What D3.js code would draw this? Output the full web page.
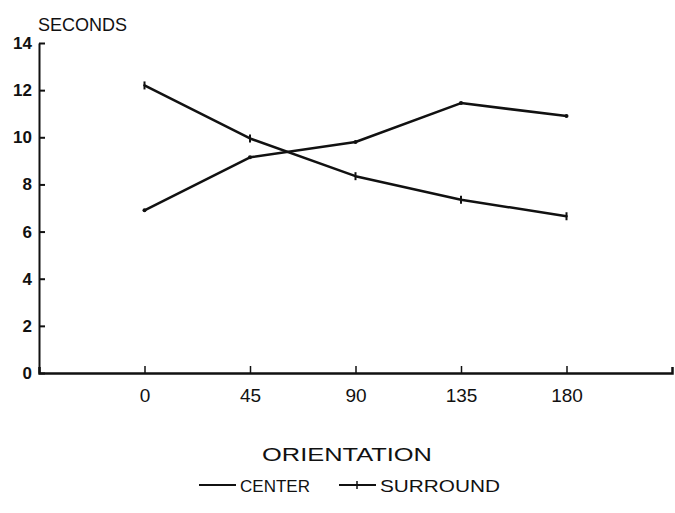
<!DOCTYPE html>
<html>
<head>
<meta charset="utf-8">
<script src="https://cdn.jsdelivr.net/npm/d3@7"></script>
<style>
  html, body { margin: 0; padding: 0; background: #fff; }
  svg { display: block; }
</style>
</head>
<body>
<svg id="chart"></svg>
<script>
// Viewing time by target orientation
const orientations = [0, 45, 90, 135, 180];
const centerSeconds = [6.9, 9.15, 9.8, 11.45, 10.9];
const surroundSeconds = [12.2, 9.95, 8.35, 7.35, 6.65];
const yTicks = [0, 2, 4, 6, 8, 10, 12, 14];

const width = 675, height = 513;
const ink = '#111';
const font = '"Liberation Sans", Arial, sans-serif';

const svg = d3.select('#chart')
    .attr('width', width)
    .attr('height', height)
    .attr('viewBox', [0, 0, width, height]);

// Scales
const x = d3.scaleLinear().domain([-45, 225]).range([39, 672]);
const y = d3.scaleLinear().domain([0, 14]).range([373, 43]);

// Y axis, ticks pointing inward
const yAxis = d3.axisLeft(y)
    .tickValues(yTicks)
    .tickSize(-6)
    .tickSizeOuter(0)
    .tickPadding(7);

const gy = svg.append('g')
    .attr('transform', `translate(${x.range()[0]},0)`)
    .call(yAxis);

gy.select('.domain').attr('stroke', ink).attr('stroke-width', 2);
gy.selectAll('.tick line').attr('stroke', ink).attr('stroke-width', 2);
gy.selectAll('.tick text')
    .attr('fill', ink)
    .attr('font-family', font)
    .attr('font-size', '17px')
    .attr('font-weight', 'bold');

// X axis, ticks pointing up
const xAxis = d3.axisBottom(x)
    .tickValues(orientations)
    .tickSize(-7)
    .tickSizeOuter(-6)
    .tickPadding(16);

const gx = svg.append('g')
    .attr('transform', `translate(0,${y(0)})`)
    .call(xAxis);

gx.select('.domain').attr('stroke', ink).attr('stroke-width', 2.5);
gx.selectAll('.tick line').attr('stroke', ink).attr('stroke-width', 1.5);
gx.selectAll('.tick text')
    .attr('fill', ink)
    .attr('font-family', font)
    .attr('font-size', '19px');

// Axis titles
svg.append('text')
    .attr('x', 38)
    .attr('y', 31)
    .attr('font-family', font)
    .attr('font-size', '19px')
    .attr('textLength', 89)
    .attr('lengthAdjust', 'spacingAndGlyphs')
    .attr('fill', ink)
    .text('SECONDS');

svg.append('text')
    .attr('x', 262)
    .attr('y', 461)
    .attr('font-family', font)
    .attr('font-size', '18px')
    .attr('textLength', 170)
    .attr('lengthAdjust', 'spacingAndGlyphs')
    .attr('fill', ink)
    .text('ORIENTATION');

// Lines
const series = [
    { name: 'CENTER', values: centerSeconds, marker: false },
    { name: 'SURROUND', values: surroundSeconds, marker: true }
];

const line = d3.line()
    .x(d => x(d[0]))
    .y(d => y(d[1]));

series.forEach(s => {
    const pts = orientations.map((o, i) => [o, s.values[i]]);

    svg.append('path')
        .datum(pts)
        .attr('fill', 'none')
        .attr('stroke', ink)
        .attr('stroke-width', 2.5)
        .attr('stroke-linejoin', 'round')
        .attr('stroke-linecap', 'round')
        .attr('d', line);

    if (s.marker) {
        // little vertical crossbars at each point
        svg.selectAll(null)
            .data(pts)
            .join('line')
            .attr('x1', d => x(d[0]))
            .attr('x2', d => x(d[0]))
            .attr('y1', d => y(d[1]) - 4)
            .attr('y2', d => y(d[1]) + 4)
            .attr('stroke', ink)
            .attr('stroke-width', 2);
    } else {
        svg.selectAll(null)
            .data(pts)
            .join('circle')
            .attr('cx', d => x(d[0]))
            .attr('cy', d => y(d[1]))
            .attr('r', 2)
            .attr('fill', ink);
    }
});

// Legend
const legendItems = [
    { name: 'CENTER', x: 199, textLen: 70, marker: false },
    { name: 'SURROUND', x: 339, textLen: 120, marker: true }
];
const legendY = 485;

const lg = svg.append('g')
    .selectAll('g')
    .data(legendItems)
    .join('g')
    .attr('transform', d => `translate(${d.x},${legendY})`);

lg.append('line')
    .attr('x1', 0)
    .attr('x2', 37)
    .attr('stroke', ink)
    .attr('stroke-width', 2);

lg.filter(d => d.marker)
    .append('line')
    .attr('x1', 18).attr('x2', 18)
    .attr('y1', -4).attr('y2', 4)
    .attr('stroke', ink)
    .attr('stroke-width', 1.5);

lg.append('text')
    .attr('x', 41)
    .attr('y', 7)
    .attr('font-family', font)
    .attr('font-size', '17px')
    .attr('textLength', d => d.textLen)
    .attr('lengthAdjust', 'spacingAndGlyphs')
    .attr('fill', ink)
    .text(d => d.name);
</script>
</body>
</html>
